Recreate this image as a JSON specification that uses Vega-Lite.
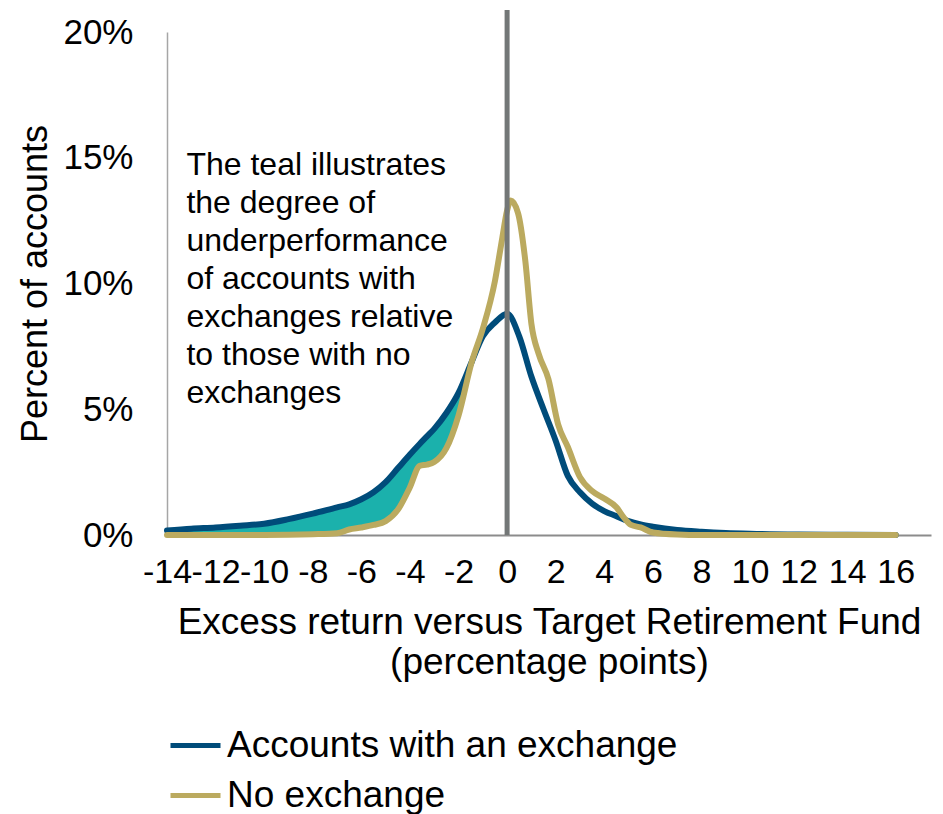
{
  "$schema": "https://vega.github.io/schema/vega-lite/v6.json",
  "width": 764,
  "height": 503,
  "autosize": {"type": "none"},
  "padding": {"left": 167, "top": 32, "right": 12, "bottom": 279},
  "background": "white",
  "config": {
    "view": {"stroke": null},
    "font": "Liberation Sans",
    "axis": {"labelFont": "Liberation Sans", "titleFont": "Liberation Sans", "labelColor": "#000000", "titleColor": "#000000", "titleFontWeight": "normal"},
    "legend": {"labelFont": "Liberation Sans"}
  },
  "datasets": {
    "lines": [
      {"x": -14, "series": "Accounts with an exchange", "pct": 0.18},
      {"x": -13, "series": "Accounts with an exchange", "pct": 0.25},
      {"x": -12, "series": "Accounts with an exchange", "pct": 0.3},
      {"x": -11, "series": "Accounts with an exchange", "pct": 0.37},
      {"x": -10, "series": "Accounts with an exchange", "pct": 0.45},
      {"x": -9, "series": "Accounts with an exchange", "pct": 0.63},
      {"x": -8, "series": "Accounts with an exchange", "pct": 0.85},
      {"x": -7, "series": "Accounts with an exchange", "pct": 1.1},
      {"x": -6.5, "series": "Accounts with an exchange", "pct": 1.22},
      {"x": -6, "series": "Accounts with an exchange", "pct": 1.42},
      {"x": -5.5, "series": "Accounts with an exchange", "pct": 1.7},
      {"x": -5, "series": "Accounts with an exchange", "pct": 2.1},
      {"x": -4.5, "series": "Accounts with an exchange", "pct": 2.65},
      {"x": -4, "series": "Accounts with an exchange", "pct": 3.2},
      {"x": -3.6, "series": "Accounts with an exchange", "pct": 3.62},
      {"x": -3.3, "series": "Accounts with an exchange", "pct": 3.92},
      {"x": -3, "series": "Accounts with an exchange", "pct": 4.22},
      {"x": -2.5, "series": "Accounts with an exchange", "pct": 4.85},
      {"x": -2, "series": "Accounts with an exchange", "pct": 5.65},
      {"x": -1.45, "series": "Accounts with an exchange", "pct": 6.9},
      {"x": -1, "series": "Accounts with an exchange", "pct": 7.9},
      {"x": -0.5, "series": "Accounts with an exchange", "pct": 8.45},
      {"x": 0, "series": "Accounts with an exchange", "pct": 8.8},
      {"x": 0.5, "series": "Accounts with an exchange", "pct": 7.9},
      {"x": 1, "series": "Accounts with an exchange", "pct": 6.3},
      {"x": 1.5, "series": "Accounts with an exchange", "pct": 5.0},
      {"x": 2, "series": "Accounts with an exchange", "pct": 3.75},
      {"x": 2.5, "series": "Accounts with an exchange", "pct": 2.35},
      {"x": 3, "series": "Accounts with an exchange", "pct": 1.7},
      {"x": 3.5, "series": "Accounts with an exchange", "pct": 1.25},
      {"x": 4, "series": "Accounts with an exchange", "pct": 0.95},
      {"x": 4.5, "series": "Accounts with an exchange", "pct": 0.75},
      {"x": 5, "series": "Accounts with an exchange", "pct": 0.55},
      {"x": 5.5, "series": "Accounts with an exchange", "pct": 0.42},
      {"x": 6, "series": "Accounts with an exchange", "pct": 0.33},
      {"x": 7, "series": "Accounts with an exchange", "pct": 0.2},
      {"x": 8, "series": "Accounts with an exchange", "pct": 0.13},
      {"x": 9, "series": "Accounts with an exchange", "pct": 0.08},
      {"x": 10, "series": "Accounts with an exchange", "pct": 0.05},
      {"x": 12, "series": "Accounts with an exchange", "pct": 0.02},
      {"x": 14, "series": "Accounts with an exchange", "pct": 0.01},
      {"x": 16, "series": "Accounts with an exchange", "pct": 0.0},
      {"x": -14, "series": "No exchange", "pct": 0.0},
      {"x": -12, "series": "No exchange", "pct": 0.0},
      {"x": -10, "series": "No exchange", "pct": 0.0},
      {"x": -8, "series": "No exchange", "pct": 0.03},
      {"x": -7, "series": "No exchange", "pct": 0.07},
      {"x": -6.5, "series": "No exchange", "pct": 0.22},
      {"x": -6, "series": "No exchange", "pct": 0.3},
      {"x": -5.5, "series": "No exchange", "pct": 0.4},
      {"x": -5, "series": "No exchange", "pct": 0.55},
      {"x": -4.5, "series": "No exchange", "pct": 1.0},
      {"x": -4, "series": "No exchange", "pct": 1.9},
      {"x": -3.6, "series": "No exchange", "pct": 2.75},
      {"x": -3.3, "series": "No exchange", "pct": 2.8},
      {"x": -3, "series": "No exchange", "pct": 2.9},
      {"x": -2.5, "series": "No exchange", "pct": 3.45},
      {"x": -2, "series": "No exchange", "pct": 4.75},
      {"x": -1.45, "series": "No exchange", "pct": 6.9},
      {"x": -1, "series": "No exchange", "pct": 8.2},
      {"x": -0.5, "series": "No exchange", "pct": 10.1},
      {"x": -0.2, "series": "No exchange", "pct": 11.8},
      {"x": 0, "series": "No exchange", "pct": 12.9},
      {"x": 0.15, "series": "No exchange", "pct": 13.3},
      {"x": 0.45, "series": "No exchange", "pct": 12.8},
      {"x": 0.75, "series": "No exchange", "pct": 10.9},
      {"x": 1, "series": "No exchange", "pct": 8.4},
      {"x": 1.3, "series": "No exchange", "pct": 7.2},
      {"x": 1.7, "series": "No exchange", "pct": 6.2},
      {"x": 2.1, "series": "No exchange", "pct": 4.4},
      {"x": 2.5, "series": "No exchange", "pct": 3.5},
      {"x": 3, "series": "No exchange", "pct": 2.3},
      {"x": 3.5, "series": "No exchange", "pct": 1.75},
      {"x": 4, "series": "No exchange", "pct": 1.45},
      {"x": 4.5, "series": "No exchange", "pct": 1.1},
      {"x": 4.8, "series": "No exchange", "pct": 0.7},
      {"x": 5.1, "series": "No exchange", "pct": 0.4},
      {"x": 5.5, "series": "No exchange", "pct": 0.3},
      {"x": 6, "series": "No exchange", "pct": 0.1},
      {"x": 7, "series": "No exchange", "pct": 0.02},
      {"x": 8, "series": "No exchange", "pct": 0.0},
      {"x": 16, "series": "No exchange", "pct": 0.0}
    ],
    "gap": [
      {"x": -14, "hi": 0.18, "lo": 0.0},
      {"x": -13, "hi": 0.25, "lo": 0.0},
      {"x": -12, "hi": 0.3, "lo": 0.0},
      {"x": -11, "hi": 0.37, "lo": 0.0},
      {"x": -10, "hi": 0.45, "lo": 0.0},
      {"x": -9, "hi": 0.63, "lo": 0.01},
      {"x": -8, "hi": 0.85, "lo": 0.03},
      {"x": -7, "hi": 1.1, "lo": 0.07},
      {"x": -6.5, "hi": 1.22, "lo": 0.22},
      {"x": -6, "hi": 1.42, "lo": 0.3},
      {"x": -5.5, "hi": 1.7, "lo": 0.4},
      {"x": -5, "hi": 2.1, "lo": 0.55},
      {"x": -4.5, "hi": 2.65, "lo": 1.0},
      {"x": -4, "hi": 3.2, "lo": 1.9},
      {"x": -3.6, "hi": 3.62, "lo": 2.75},
      {"x": -3.3, "hi": 3.92, "lo": 2.8},
      {"x": -3, "hi": 4.22, "lo": 2.9},
      {"x": -2.5, "hi": 4.85, "lo": 3.45},
      {"x": -2, "hi": 5.65, "lo": 4.75},
      {"x": -1.45, "hi": 6.9, "lo": 6.9}
    ],
    "marker": [
      {"x": 0, "bottom": 0, "top": 20.87}
    ],
    "note": [
      {"x": -13.2, "y": 14.31, "label": ["The teal illustrates", "the degree of", "underperformance", "of accounts with", "exchanges relative", "to those with no", "exchanges"]}
    ]
  },
  "layer": [
    {
      "data": {"name": "gap"},
      "mark": {"type": "area", "interpolate": "monotone", "color": "#1BB1AC"},
      "encoding": {
        "x": {"field": "x", "type": "quantitative", "scale": {"domain": [-14, 17.45], "nice": false, "zero": false}},
        "y": {"field": "hi", "type": "quantitative"},
        "y2": {"field": "lo"}
      }
    },
    {
      "data": {"name": "lines"},
      "mark": {"type": "line", "interpolate": "monotone", "strokeWidth": 6, "strokeCap": "round", "strokeJoin": "round"},
      "encoding": {
        "x": {
          "field": "x", "type": "quantitative",
          "scale": {"domain": [-14, 17.45], "nice": false, "zero": false},
          "axis": {
            "values": [-14, -12, -10, -8, -6, -4, -2, 0, 2, 4, 6, 8, 10, 12, 14, 16],
            "labelExpr": "'' + datum.value",
            "labelFontSize": 34,
            "labelPadding": 20,
            "labelOverlap": false,
            "labelFlush": false,
            "ticks": false,
            "tickSize": 0,
            "grid": false,
            "domainColor": "#8C8C8C",
            "domainWidth": 2,
            "title": ["Excess return versus Target Retirement Fund", "(percentage points)"],
            "titleFontSize": 37,
            "titleLineHeight": 40,
            "titlePadding": 15
          }
        },
        "y": {
          "field": "pct", "type": "quantitative",
          "scale": {"domain": [0, 20], "nice": false},
          "axis": {
            "values": [0, 5, 10, 15, 20],
            "labelExpr": "datum.value + '%'",
            "labelFontSize": 35,
            "labelPadding": 34,
            "ticks": false,
            "tickSize": 0,
            "grid": false,
            "domainColor": "#A6A6A6",
            "domainWidth": 1.5,
            "title": "Percent of accounts",
            "titleFontSize": 36,
            "titlePadding": 8
          }
        },
        "color": {
          "field": "series", "type": "nominal",
          "scale": {"domain": ["Accounts with an exchange", "No exchange"], "range": ["#004C7A", "#BBAA5F"]},
          "legend": {
            "title": null,
            "orient": "none",
            "legendX": 1,
            "legendY": 686,
            "direction": "vertical",
            "symbolType": "stroke",
            "symbolSize": 2500,
            "symbolStrokeWidth": 5,
            "labelFontSize": 37,
            "labelLimit": 0,
            "labelColor": "#000000",
            "labelOffset": 4,
            "rowPadding": 4,
            "padding": 0
          }
        }
      }
    },
    {
      "data": {"name": "marker"},
      "mark": {"type": "rule", "color": "#737777", "strokeWidth": 5, "clip": false},
      "encoding": {
        "x": {"field": "x", "type": "quantitative"},
        "y": {"field": "bottom", "type": "quantitative"},
        "y2": {"field": "top"}
      }
    },
    {
      "data": {"name": "note"},
      "mark": {"type": "text", "align": "left", "baseline": "alphabetic", "fontSize": 32, "lineHeight": 38, "color": "#000000", "font": "Liberation Sans"},
      "encoding": {
        "x": {"field": "x", "type": "quantitative"},
        "y": {"field": "y", "type": "quantitative"},
        "text": {"field": "label"}
      }
    }
  ]
}
